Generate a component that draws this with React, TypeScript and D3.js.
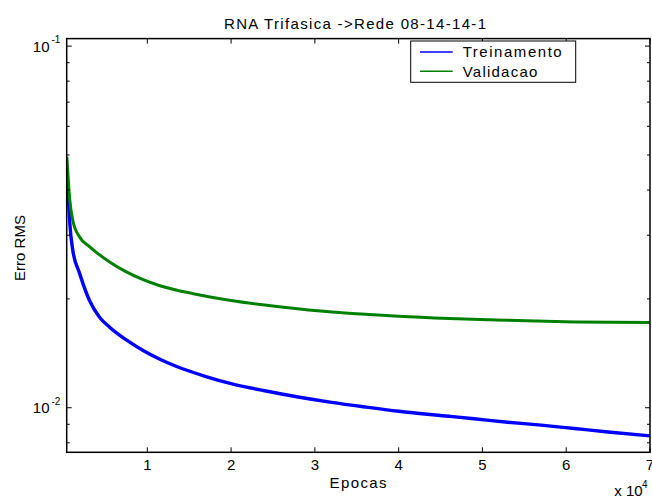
import React from "react";
import * as d3 from "d3";

const titleText = "RNA Trifasica ->Rede 08-14-14-1";
const xLabelText = "Epocas";
const yLabelText = "Erro RMS";
const seriesNames = ["Treinamento", "Validacao"];
const seriesColors = ["#0000ff", "#008000"];

const trainEpochs = [400, 600, 750, 1100, 1900, 3100, 4300, 5500, 7500, 9500, 11500, 13500, 17000, 20000, 24000, 28000, 32000, 36000, 40000, 46000, 49000, 53000, 57000, 61000, 65000, 70000];
const trainError = [0.0449, 0.0375, 0.0324, 0.0273, 0.0236, 0.0198, 0.0178, 0.0167, 0.0154, 0.0144, 0.01362, 0.0130, 0.0122, 0.01166, 0.01114, 0.01071, 0.01035, 0.01005, 0.00978, 0.00947, 0.00932, 0.00912, 0.00895, 0.00876, 0.00857, 0.00836];

const valEpochs = [400, 750, 1100, 1900, 3100, 5500, 7500, 9500, 11500, 15500, 17500, 20000, 26000, 32000, 36000, 40000, 46000, 53000, 61000, 70000];
const valError = [0.0494, 0.0375, 0.0330, 0.0297, 0.0279, 0.0253, 0.02375, 0.0226, 0.02175, 0.02067, 0.02025, 0.0198, 0.0190, 0.0184, 0.01814, 0.0179, 0.01765, 0.01746, 0.01727, 0.0172];

const xTicks = [10000, 20000, 30000, 40000, 50000, 60000, 70000];
const xTickLabels = ["1", "2", "3", "4", "5", "6", "7"];
const yMajorTicks = [0.01, 0.1];
const yMajorExp = ["-2", "-1"];
const yMinorTicks = [0.008, 0.009, 0.02, 0.03, 0.04, 0.05, 0.06, 0.07, 0.08, 0.09];

const FONT = "'Liberation Sans', Arial, Helvetica, sans-serif";

export default function App() {
  const W = 652, H = 497;
  const L = 66.7, R = 650, T = 38.6, B = 452.3;
  const x = d3.scaleLinear().domain([380, 70000]).range([L, R]);
  const y = d3.scaleLog().domain([0.00753, 0.1049]).range([B, T]);

  const line = d3
    .line<[number, number]>()
    .x((d) => x(d[0]))
    .y((d) => y(d[1]))
    .curve(d3.curveMonotoneX);

  const trainData: [number, number][] = trainEpochs.map((e, i) => [e, trainError[i]]);
  const valData: [number, number][] = valEpochs.map((e, i) => [e, valError[i]]);

  return (
    <svg
      width={W}
      height={H}
      style={{ position: "absolute", left: 0, top: 0, background: "#fff" }}
      fontFamily={FONT}
    >
      <rect x={0} y={0} width={W} height={H} fill="#fff" />
      <defs>
        <clipPath id="plotclip">
          <rect x={L} y={T} width={R - L} height={B - T} />
        </clipPath>
      </defs>
      <text x={355} y={29} fontSize={15} textAnchor="middle" textLength={262} lengthAdjust="spacing">
        {titleText}
      </text>

      <g clipPath="url(#plotclip)">
        <path d={line(trainData) || ""} fill="none" stroke={seriesColors[0]} strokeWidth={3.4} strokeLinejoin="round" />
        <path d={line(valData) || ""} fill="none" stroke={seriesColors[1]} strokeWidth={3} strokeLinejoin="round" />
      </g>

      {xTicks.map((t) => (
        <g key={"xt" + t}>
          <line x1={x(t)} x2={x(t)} y1={B} y2={B - 5} stroke="#000" strokeWidth={1} />
          <line x1={x(t)} x2={x(t)} y1={T} y2={T + 5} stroke="#000" strokeWidth={1} />
        </g>
      ))}
      {yMajorTicks.map((t) => (
        <g key={"ymt" + t}>
          <line x1={L} x2={L + 5} y1={y(t)} y2={y(t)} stroke="#000" strokeWidth={1} />
          <line x1={R} x2={R - 5} y1={y(t)} y2={y(t)} stroke="#000" strokeWidth={1} />
        </g>
      ))}
      {yMinorTicks.map((t) => (
        <g key={"ymn" + t}>
          <line x1={L} x2={L + 3} y1={y(t)} y2={y(t)} stroke="#000" strokeWidth={1} />
          <line x1={R} x2={R - 3} y1={y(t)} y2={y(t)} stroke="#000" strokeWidth={1} />
        </g>
      ))}

      <rect x={L} y={T} width={R - L} height={B - T} fill="none" stroke="#000" strokeWidth={1.5} />

      {xTicks.map((t, i) => (
        <text key={"xl" + t} x={x(t)} y={470} fontSize={15} textAnchor="middle">
          {xTickLabels[i]}
        </text>
      ))}
      {yMajorTicks.map((t, i) => (
        <g key={"yl" + t}>
          <text x={49.5} y={y(t) + 5.7} fontSize={15} textAnchor="end">10</text>
          <text x={51.5} y={y(t) - 3} fontSize={10}>{yMajorExp[i]}</text>
        </g>
      ))}

      <text x={358} y={488} fontSize={15} textAnchor="middle" textLength={57} lengthAdjust="spacing">
        {xLabelText}
      </text>
      <text transform="translate(24.5,248) rotate(-90)" fontSize={15} textAnchor="middle" textLength={66} lengthAdjust="spacing">
        {yLabelText}
      </text>
      <text x={614.3} y={495.5} fontSize={15}>x 10</text>
      <text x={642} y={488} fontSize={10}>4</text>

      <rect x={410.7} y={41} width={165} height={41.3} fill="#fff" stroke="#000" strokeWidth={1} />
      {seriesNames.map((n, i) => {
        const ly = 52 + i * 19.3;
        return (
          <g key={n}>
            <line x1={420} x2={452.7} y1={ly} y2={ly} stroke={seriesColors[i]} strokeWidth={1.5} />
            <text x={462.7} y={ly + 5.3} fontSize={15} textLength={i === 0 ? 99 : 74.6} lengthAdjust="spacing">
              {n}
            </text>
          </g>
        );
      })}
    </svg>
  );
}
